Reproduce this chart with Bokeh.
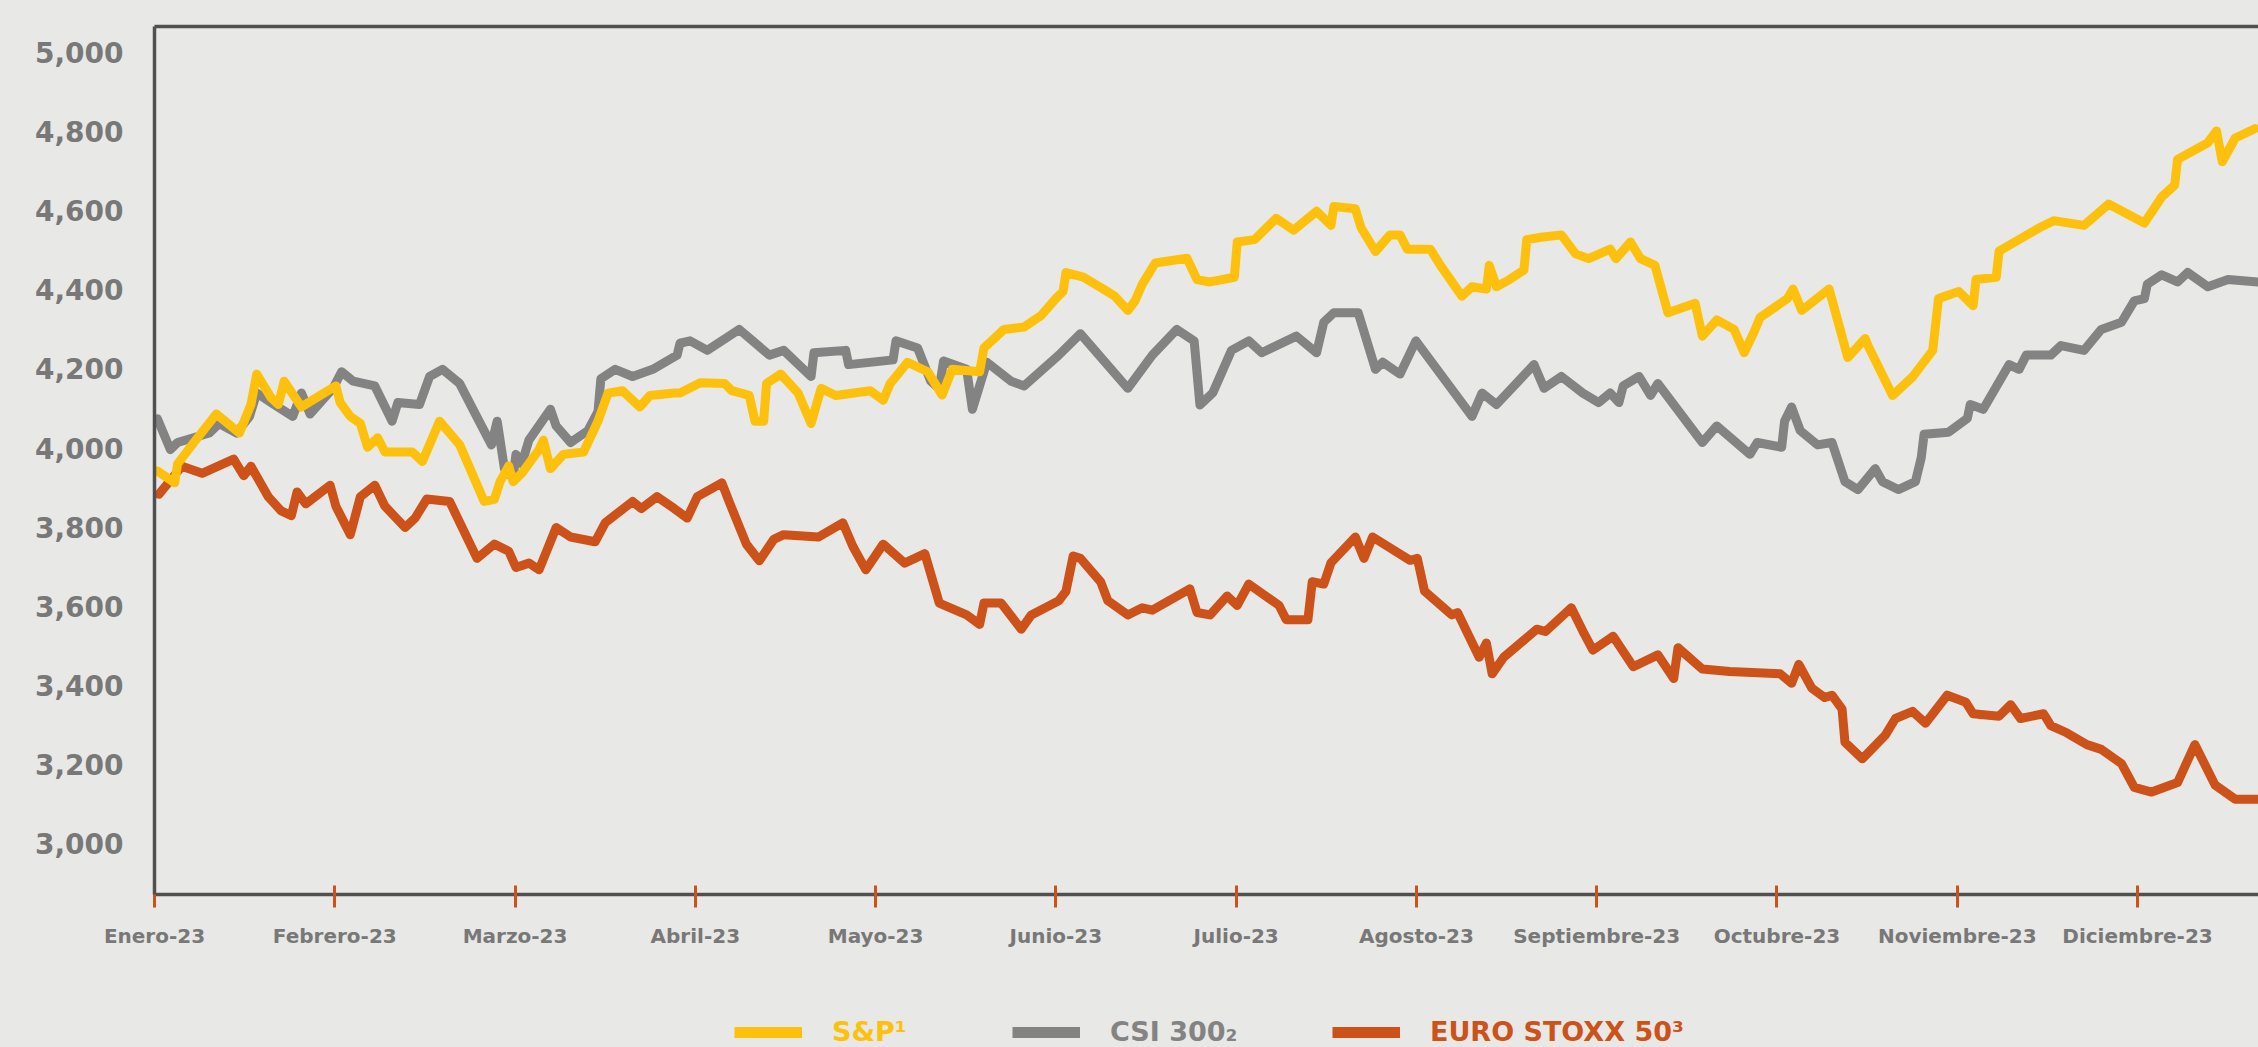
from bokeh.plotting import figure
from bokeh.layouts import column
from bokeh.models import Range1d, LinearAxis, FixedTicker, NumeralTickFormatter, Legend, LegendItem
from bokeh.embed import file_html
from bokeh.resources import INLINE

# ---------------- data ----------------
month_labels = ["Enero-23", "Febrero-23", "Marzo-23", "Abril-23", "Mayo-23", "Junio-23",
                "Julio-23", "Agosto-23", "Septiembre-23", "Octubre-23", "Noviembre-23", "Diciembre-23"]
y_ticks = [3000, 3200, 3400, 3600, 3800, 4000, 4200, 4400, 4600, 4800, 5000]

# position in months since 1 Jan 2023 (equal-width months)
sp_m = [0.016, 0.112, 0.128, 0.208, 0.343, 0.471, 0.535, 0.567, 0.647, 0.687,
        0.719, 0.815, 1.006, 1.030, 1.086, 1.142, 1.182, 1.238, 1.278, 1.430,
        1.486, 1.581, 1.693, 1.773, 1.829, 1.885, 1.917, 1.965, 1.989, 2.037,
        2.133, 2.157, 2.196, 2.268, 2.380, 2.460, 2.516, 2.596, 2.692, 2.748,
        2.883, 2.915, 3.027, 3.163, 3.203, 3.299, 3.331, 3.379, 3.395, 3.474,
        3.570, 3.642, 3.698, 3.778, 3.970, 4.042, 4.081, 4.177, 4.289, 4.369,
        4.425, 4.577, 4.601, 4.712, 4.824, 4.920, 5.000, 5.040, 5.056, 5.152,
        5.264, 5.327, 5.399, 5.439, 5.479, 5.551, 5.727, 5.783, 5.855, 5.990,
        6.006, 6.102, 6.222, 6.318, 6.446, 6.526, 6.542, 6.661, 6.693, 6.773,
        6.853, 6.909, 6.949, 7.077, 7.133, 7.252, 7.308, 7.388, 7.404, 7.444,
        7.516, 7.596, 7.612, 7.692, 7.804, 7.883, 7.955, 8.075, 8.107, 8.187,
        8.243, 8.323, 8.395, 8.546, 8.586, 8.666, 8.762, 8.818, 8.874, 8.906,
        9.058, 9.089, 9.137, 9.289, 9.393, 9.489, 9.505, 9.641, 9.752, 9.864,
        9.896, 10.008, 10.088, 10.104, 10.216, 10.232, 10.455, 10.535, 10.703, 10.839,
        11.038, 11.134, 11.206, 11.222, 11.390, 11.438, 11.470, 11.542, 11.653]
sp_v = [3942, 3912, 3960, 4008, 4086, 4038, 4110, 4187, 4127, 4110,
        4169, 4104, 4157, 4115, 4080, 4062, 4002, 4026, 3990, 3990,
        3966, 4068, 4008, 3924, 3865, 3870, 3915, 3955, 3915, 3936,
        3996, 4020, 3948, 3984, 3990, 4068, 4139, 4145, 4104, 4133,
        4139, 4139, 4165, 4163, 4145, 4133, 4068, 4068, 4163, 4187,
        4139, 4062, 4151, 4133, 4145, 4121, 4163, 4217, 4193, 4134,
        4199, 4193, 4253, 4300, 4306, 4336, 4378, 4396, 4444, 4432,
        4402, 4384, 4348, 4372, 4414, 4468, 4480, 4426, 4420, 4432,
        4521, 4527, 4581, 4551, 4599, 4563, 4611, 4605, 4557, 4497,
        4539, 4539, 4503, 4503, 4462, 4384, 4408, 4402, 4462, 4408,
        4426, 4450, 4527, 4533, 4539, 4491, 4479, 4503, 4479, 4521,
        4479, 4462, 4342, 4366, 4283, 4324, 4300, 4241, 4295, 4330,
        4378, 4402, 4348, 4402, 4229, 4277, 4259, 4133, 4180, 4247,
        4378, 4396, 4360, 4426, 4432, 4498, 4557, 4575, 4563, 4617,
        4569, 4635, 4665, 4730, 4772, 4802, 4724, 4784, 4808]

csi_m = [0.016, 0.088, 0.128, 0.304, 0.359, 0.455, 0.527, 0.567, 0.663, 0.767,
         0.815, 0.863, 0.990, 1.038, 1.102, 1.222, 1.318, 1.350, 1.470, 1.526,
         1.597, 1.693, 1.773, 1.869, 1.901, 1.941, 1.989, 2.005, 2.037, 2.077,
         2.196, 2.228, 2.308, 2.404, 2.460, 2.476, 2.556, 2.652, 2.764, 2.899,
         2.915, 2.971, 3.067, 3.243, 3.411, 3.490, 3.642, 3.658, 3.834, 3.850,
         4.097, 4.113, 4.233, 4.305, 4.353, 4.377, 4.505, 4.537, 4.617, 4.752,
         4.824, 5.016, 5.136, 5.399, 5.535, 5.671, 5.767, 5.799, 5.871, 5.974,
         6.070, 6.142, 6.334, 6.446, 6.486, 6.542, 6.677, 6.773, 6.813, 6.909,
         6.997, 7.308, 7.364, 7.444, 7.652, 7.708, 7.804, 7.923, 8.011, 8.075,
         8.123, 8.147, 8.235, 8.299, 8.339, 8.586, 8.666, 8.850, 8.890, 9.026,
         9.042, 9.081, 9.129, 9.225, 9.305, 9.377, 9.449, 9.545, 9.585, 9.673,
         9.768, 9.800, 9.816, 9.952, 10.056, 10.072, 10.144, 10.288, 10.343, 10.383,
         10.519, 10.575, 10.703, 10.799, 10.911, 10.982, 11.038, 11.054, 11.134, 11.222,
         11.278, 11.390, 11.502, 11.669]
csi_v = [4074, 3996, 4014, 4038, 4062, 4038, 4080, 4139, 4110, 4080,
         4139, 4086, 4151, 4193, 4169, 4157, 4068, 4115, 4110, 4181,
         4199, 4163, 4092, 4008, 4068, 3948, 3924, 3984, 3960, 4020,
         4098, 4056, 4014, 4044, 4092, 4175, 4199, 4181, 4199, 4235,
         4265, 4271, 4247, 4300, 4235, 4247, 4181, 4241, 4247, 4211,
         4223, 4271, 4253, 4170, 4150, 4220, 4199, 4098, 4217, 4169,
         4157, 4235, 4289, 4151, 4235, 4300, 4271, 4109, 4140, 4247,
         4271, 4241, 4283, 4241, 4318, 4342, 4342, 4199, 4217, 4187,
         4271, 4080, 4139, 4110, 4211, 4151, 4181, 4139, 4115, 4139,
         4115, 4157, 4181, 4133, 4163, 4014, 4056, 3984, 4014, 4002,
         4068, 4104, 4044, 4008, 4014, 3915, 3895, 3948, 3915, 3895,
         3915, 3975, 4035, 4040, 4075, 4110, 4098, 4211, 4199, 4235,
         4235, 4259, 4247, 4300, 4318, 4372, 4378, 4414, 4438, 4420,
         4444, 4408, 4426, 4420]

eu_m = [0.024, 0.152, 0.264, 0.439, 0.495, 0.535, 0.631, 0.703, 0.759, 0.791,
        0.839, 0.974, 1.006, 1.086, 1.142, 1.222, 1.278, 1.390, 1.446, 1.510,
        1.637, 1.789, 1.885, 1.965, 2.005, 2.077, 2.133, 2.228, 2.308, 2.444,
        2.500, 2.652, 2.700, 2.788, 2.883, 2.955, 3.011, 3.147, 3.187, 3.283,
        3.355, 3.435, 3.490, 3.682, 3.818, 3.874, 3.946, 4.042, 4.161, 4.273,
        4.353, 4.505, 4.577, 4.601, 4.696, 4.808, 4.864, 5.016, 5.056, 5.096,
        5.136, 5.248, 5.288, 5.399, 5.479, 5.535, 5.743, 5.783, 5.855, 5.950,
        6.006, 6.070, 6.238, 6.278, 6.398, 6.422, 6.486, 6.526, 6.661, 6.709,
        6.757, 6.965, 7.005, 7.045, 7.196, 7.228, 7.348, 7.388, 7.420, 7.484,
        7.668, 7.716, 7.859, 7.931, 7.979, 8.091, 8.203, 8.339, 8.427, 8.451,
        8.586, 8.738, 9.018, 9.081, 9.121, 9.193, 9.265, 9.305, 9.361, 9.377,
        9.473, 9.601, 9.657, 9.752, 9.824, 9.944, 10.048, 10.088, 10.232, 10.296,
        10.351, 10.479, 10.519, 10.607, 10.719, 10.799, 10.911, 10.982, 11.078, 11.222,
        11.318, 11.430, 11.542, 11.669]
eu_v = [3883, 3954, 3936, 3972, 3930, 3954, 3877, 3841, 3829, 3889,
        3859, 3906, 3853, 3781, 3877, 3906, 3853, 3799, 3823, 3871,
        3865, 3721, 3757, 3739, 3698, 3709, 3692, 3799, 3775, 3763,
        3811, 3865, 3847, 3877, 3847, 3823, 3877, 3912, 3865, 3757,
        3715, 3769, 3781, 3775, 3811, 3751, 3692, 3757, 3709, 3733,
        3608, 3578, 3554, 3608, 3608, 3542, 3578, 3614, 3638, 3727,
        3721, 3662, 3614, 3578, 3596, 3590, 3644, 3584, 3578, 3626,
        3602, 3656, 3602, 3566, 3566, 3662, 3656, 3710, 3775, 3721,
        3775, 3716, 3721, 3638, 3578, 3584, 3471, 3507, 3429, 3471,
        3542, 3536, 3596, 3530, 3489, 3524, 3447, 3477, 3417, 3495,
        3441, 3435, 3429, 3405, 3453, 3393, 3369, 3375, 3340, 3256,
        3214, 3274, 3316, 3334, 3304, 3375, 3357, 3328, 3322, 3351,
        3316, 3328, 3298, 3280, 3250, 3238, 3202, 3142, 3130, 3154,
        3250, 3148, 3112, 3112]

series_names = ["S&P\u00b9", "CSI 300\u2082", "EURO STOXX 50\u00b3"]

# ---------------- style ----------------
BG = "#e8e8e6"
YELLOW = "#fdc10d"
GRAY = "#828382"
ORANGE = "#cc5219"
AXIS = "#505050"
LABEL = "#787878"
FONT = "DejaVu Sans"

p = figure(width=2258, height=1000, output_backend="svg", toolbar_location=None,
           x_range=Range1d(0, 11.671), y_range=Range1d(2871, 5066),
           min_border_left=154, min_border_right=0, min_border_top=26, min_border_bottom=106,
           background_fill_color=BG, border_fill_color=BG)
p.outline_line_color = None
p.grid.visible = False

r_eu = p.line(eu_m, eu_v, line_width=9, color=ORANGE, line_join="round", line_cap="round")
r_csi = p.line(csi_m, csi_v, line_width=9, color=GRAY, line_join="round", line_cap="round")
r_sp = p.line(sp_m, sp_v, line_width=9, color=YELLOW, line_join="round", line_cap="round")

# x axis
xa = p.xaxis[0]
xa.ticker = FixedTicker(ticks=list(range(len(month_labels))))
xa.major_label_overrides = {i: lab for i, lab in enumerate(month_labels)}
xa.axis_line_color = AXIS
xa.axis_line_width = 3.5
xa.major_tick_line_color = ORANGE
xa.major_tick_line_width = 3
xa.major_tick_in = 9
xa.major_tick_out = 13
xa.minor_tick_line_color = None
xa.major_label_standoff = 16
xa.major_label_text_font = FONT
xa.major_label_text_font_style = "bold"
xa.major_label_text_font_size = "20px"
xa.major_label_text_color = LABEL

# y axis
ya = p.yaxis[0]
ya.ticker = FixedTicker(ticks=y_ticks)
ya.formatter = NumeralTickFormatter(format="0,0")
ya.axis_line_color = AXIS
ya.axis_line_width = 3.5
ya.major_tick_line_color = None
ya.minor_tick_line_color = None
ya.major_tick_in = 0
ya.major_tick_out = 0
ya.major_label_standoff = 31
ya.major_label_text_font = FONT
ya.major_label_text_font_style = "bold"
ya.major_label_text_font_size = "28px"
ya.major_label_text_color = LABEL

# top frame line
top = LinearAxis(ticker=FixedTicker(ticks=[]), axis_line_color=AXIS, axis_line_width=3.5,
                 major_tick_line_color=None, minor_tick_line_color=None,
                 major_label_text_font_size="0px", major_label_standoff=0)
p.add_layout(top, "above")

# ---------------- legend strip (frame aligned with the chart frame) ----------------
lp = figure(width=2258, height=47, output_backend="svg", toolbar_location=None,
            x_range=Range1d(0, 1), y_range=Range1d(0, 1),
            x_axis_type=None, y_axis_type=None,
            min_border_left=154, min_border_right=0, min_border_top=0, min_border_bottom=0,
            background_fill_color=BG, border_fill_color=BG)
lp.outline_line_color = None
lp.grid.visible = False

# legend-only renderers (their points lie outside the strip's visible range)
leg_sp = lp.line([-2, -1], [-2, -2], line_width=11, color=YELLOW)
leg_csi = lp.line([-2, -1], [-2, -2], line_width=11, color=GRAY)
leg_eu = lp.line([-2, -1], [-2, -2], line_width=11, color=ORANGE)
for name, rend, col, vx in [(series_names[0], leg_sp, YELLOW, 580),
                            (series_names[1], leg_csi, GRAY, 858),
                            (series_names[2], leg_eu, ORANGE, 1178)]:
    lg = Legend(items=[LegendItem(label=name, renderers=[rend])], location=(vx, 0),
                orientation="horizontal", glyph_width=68, glyph_height=30, label_height=30,
                label_standoff=30, padding=0, margin=0, spacing=0,
                background_fill_alpha=0, border_line_color=None,
                label_text_color=col, label_text_font=FONT, label_text_font_style="bold",
                label_text_font_size="27px")
    lp.add_layout(lg, "center")

layout = column(p, lp, spacing=0)
html = file_html(layout, INLINE)
html = html.replace("</head>", "<style>html,body{background:%s;}</style></head>" % BG, 1)
open("out.html", "w").write(html)
